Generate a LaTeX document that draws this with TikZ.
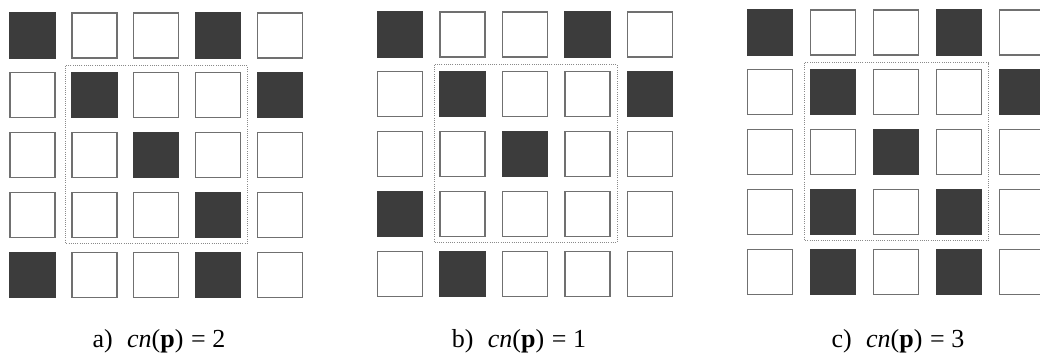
\documentclass[tikz,border=0pt]{standalone}
\usepackage{fontspec}
\setmainfont{Liberation Serif}
\usetikzlibrary{calc}
\definecolor{cellfill}{HTML}{3C3C3C}
\definecolor{celledge}{HTML}{707070}
\definecolor{dotcol}{HTML}{8A8A8A}
\tikzset{
  cell/.style={draw=celledge, line width=1.4pt, minimum size=45pt, inner sep=0pt, outer sep=0pt, fill=white},
  blk/.style={cell, fill=cellfill, draw=cellfill},
  wht/.style={cell},
  nbhd/.style={draw=dotcol, line width=0.9pt, dash pattern=on 1pt off 1.2pt},
  captext/.style={font=\fontsize{26}{30}\selectfont, anchor=base, inner sep=0pt}
}
\newcommand{\drawgrid}[6]{%
  % #1 name, #2 x0 centre, #3 y0 centre, #4 x pitch, #5 y pitch, #6 pattern rows
  \foreach \row [count=\r] in {#6} {
    \foreach \v [count=\c] in \row {
      \ifnum\v=1
        \node[blk] (#1-\r-\c) at ({#2+(\c-1)*#4},{#3+(\r-1)*#5}) {};
      \else
        \node[wht] (#1-\r-\c) at ({#2+(\c-1)*#4},{#3+(\r-1)*#5}) {};
      \fi
    }
  }
  \draw[nbhd] ($(#1-2-2.north west)+(-6,-7)$) rectangle ($(#1-4-4.south east)+(7,6)$);
}
\begin{document}
\begin{tikzpicture}[x=1pt,y=-1pt]
\useasboundingbox[fill=white] (0,0) rectangle (1040,358);
\clip (0,0) rectangle (1040,358);
\drawgrid{a}{32.5}{35.5}{61.8}{59.8}{{1,0,0,1,0},{0,1,0,0,1},{0,0,1,0,0},{0,0,0,1,0},{1,0,0,1,0}}
\drawgrid{b}{400}{34.5}{62.5}{59.8}{{1,0,0,1,0},{0,1,0,0,1},{0,0,1,0,0},{1,0,0,0,0},{0,1,0,0,0}}
\drawgrid{c}{770}{32.5}{63}{59.8}{{1,0,0,1,0},{0,1,0,0,1},{0,0,1,0,0},{0,1,0,1,0},{0,1,0,1,0}}
\node[captext] (la) at (159,347) {a)\hspace{0.55em}\textit{cn}(\textbf{p})\hspace{0.05em} = 2};
\node[captext] (lb) at (519,347) {b)\hspace{0.55em}\textit{cn}(\textbf{p})\hspace{0.05em} = 1};
\node[captext] (lc) at (898,347) {c)\hspace{0.55em}\textit{cn}(\textbf{p})\hspace{0.05em} = 3};
\end{tikzpicture}
\end{document}
